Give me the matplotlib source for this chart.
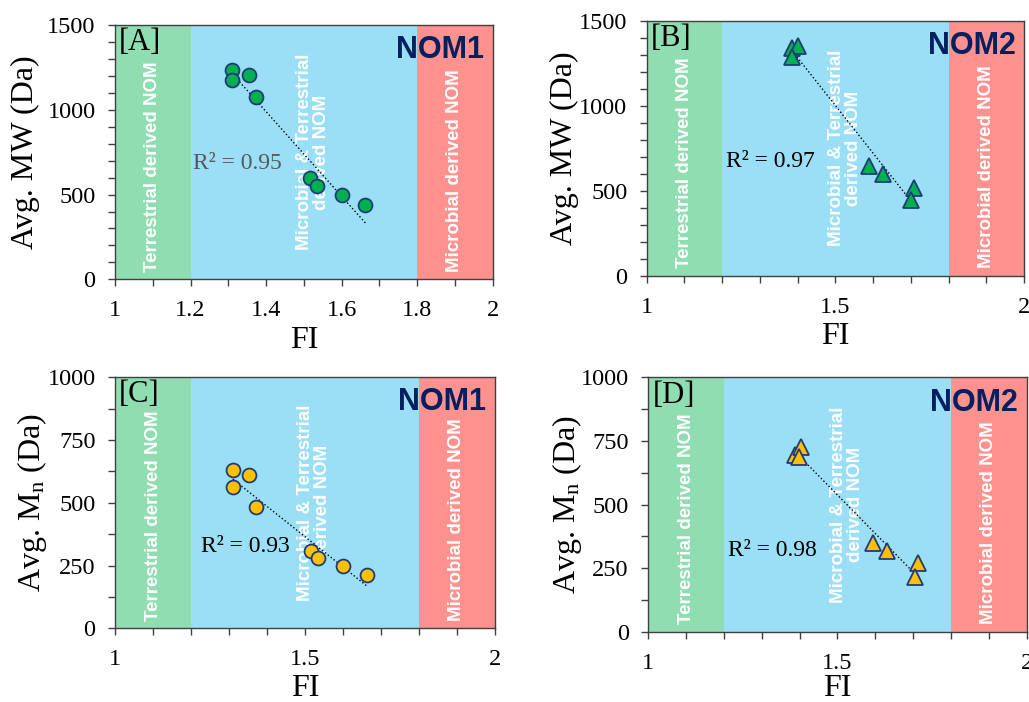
import numpy as np
import matplotlib
matplotlib.use("Agg")
import matplotlib.pyplot as plt
from matplotlib.ticker import MultipleLocator

plt.rcParams["font.family"] = ["Liberation Serif", "DejaVu Serif"]
plt.rcParams["mathtext.fontset"] = "custom"
plt.rcParams["mathtext.rm"] = "Liberation Serif"
plt.rcParams["mathtext.it"] = "Liberation Serif:italic"

# FI vs average molecular weight (NOM1 / NOM2)
fi_nom1 = [1.310, 1.310, 1.354, 1.372, 1.516, 1.534, 1.600, 1.663]
mw_nom1 = [1232, 1175, 1203, 1073, 600, 552, 495, 436]
fi_nom2 = [1.386, 1.401, 1.386, 1.590, 1.625, 1.707, 1.700]
mw_nom2 = [1337, 1352, 1287, 644, 596, 516, 447]

# FI vs number-average molecular weight
fi_nom1_mn = [1.310, 1.310, 1.352, 1.370, 1.516, 1.533, 1.601, 1.662]
mn_nom1 = [631, 563, 610, 483, 307, 280, 250, 214]
fi_nom2_mn = [1.388, 1.403, 1.398, 1.595, 1.630, 1.714, 1.705]
mn_nom2 = [695, 725, 688, 350, 318, 269, 214]

r2_labels = ["R² = 0.95", "R² = 0.97", "R² = 0.93", "R² = 0.98"]
panel_labels = ["[A]", "[B]", "[C]", "[D]"]
nom_labels = ["NOM1", "NOM2", "NOM1", "NOM2"]

# FI source regions
regions = [(1.0, 1.2), (1.2, 1.8), (1.8, 2.0)]
region_names = ["Terrestrial derived NOM",
                "Microbial & Terrestrial\nderived NOM",
                "Microbial derived NOM"]
region_colors = ["#8fddb0", "#9bdff7", "#ff918e"]

fig = plt.figure(figsize=(10.29, 7.02), dpi=100)

axes_pos = [
    [0.1118, 0.6021, 0.3670, 0.3623],
    [0.6285, 0.6073, 0.3667, 0.3632],
    [0.1118, 0.1050, 0.3692, 0.3575],
    [0.6300, 0.1001, 0.3677, 0.3624],
]

panels = [
    (fi_nom1, mw_nom1, "o", "#00b050", "Avg. MW (Da)", 1500, 500, 100, 0.2),
    (fi_nom2, mw_nom2, "^", "#00b050", "Avg. MW (Da)", 1500, 500, 100, 0.5),
    (fi_nom1_mn, mn_nom1, "o", "#ffc000", r"Avg. M$_\mathrm{n}$ (Da)", 1000, 250, 125, 0.5),
    (fi_nom2_mn, mn_nom2, "^", "#ffc000", r"Avg. M$_\mathrm{n}$ (Da)", 1000, 250, 125, 0.5),
]

r2_pos = [(1.206, 684), (1.209, 673), (1.226, 325), (1.211, 321)]
r2_colors = ["#595959", "black", "black", "black"]
ylab_x = [-0.238, -0.218, -0.218, -0.215]
xlab_y = [-0.24, -0.24, -0.24, -0.225]

for i, (x, y, marker, face, ylabel, ymax, ymaj, ymin, xmaj) in enumerate(panels):
    ax = fig.add_axes(axes_pos[i])

    # coloured FI bands
    for (x0, x1), name, col in zip(regions, region_names, region_colors):
        ax.axvspan(x0, x1, color=col, zorder=0, lw=0)
        if "\n" in name:
            ax.text((x0 + x1) / 2 + 0.025, 0.5, name, transform=ax.get_xaxis_transform(),
                    rotation=90, ha="center", va="center", color="white",
                    fontsize=13.5, fontweight="bold", family="Liberation Sans",
                    linespacing=1.0, zorder=1)
        else:
            ax.text((x0 + x1) / 2, 0.03, name, transform=ax.get_xaxis_transform(),
                    rotation=90, ha="center", va="bottom", color="white",
                    fontsize=13.5, fontweight="bold", family="Liberation Sans", zorder=1)

    # linear trend
    coef = np.polyfit(x, y, 1)
    xx = np.array([min(x), max(x)])
    ax.plot(xx, np.polyval(coef, xx), ls=":", color="black", lw=1.0, zorder=2)

    ms = 10 if marker == "o" else 11
    ax.plot(x, y, marker, ms=ms, mfc=face, mec="#1f3c78", mew=1.3, ls="none", zorder=3)

    ax.text(r2_pos[i][0], r2_pos[i][1], r2_labels[i], ha="left", va="center",
            fontsize=17, color=r2_colors[i], zorder=4)
    ax.text(0.011, 0.93, panel_labels[i], transform=ax.transAxes, ha="left", va="center",
            fontsize=22, zorder=4)
    ax.text(0.977, 0.90, nom_labels[i], transform=ax.transAxes, ha="right", va="center",
            fontsize=22, fontweight="bold", family="Liberation Sans", color="#002060", zorder=4)

    ax.set_xlim(1, 2)
    ax.set_ylim(0, ymax)
    ax.xaxis.set_major_locator(MultipleLocator(xmaj))
    ax.xaxis.set_minor_locator(MultipleLocator(0.1))
    ax.yaxis.set_major_locator(MultipleLocator(ymaj))
    ax.yaxis.set_minor_locator(MultipleLocator(ymin))
    ax.xaxis.set_major_formatter(plt.FuncFormatter(lambda v, p: f"{v:g}"))

    ax.tick_params(which="both", direction="out", length=5, width=1, color="#404040")
    ax.tick_params(axis="x", which="major", labelsize=17.5, pad=10)
    ax.tick_params(axis="y", which="major", labelsize=17.5, pad=9)
    for s in ax.spines.values():
        s.set_color("#404040")
        s.set_linewidth(1.0)

    ax.set_xlabel("FI", fontsize=23, va="center")
    ax.xaxis.set_label_coords(0.5, xlab_y[i])
    ax.set_ylabel(ylabel, fontsize=23, va="center")
    ax.yaxis.set_label_coords(ylab_x[i], 0.5)

fig.savefig("out.png", dpi=100)
